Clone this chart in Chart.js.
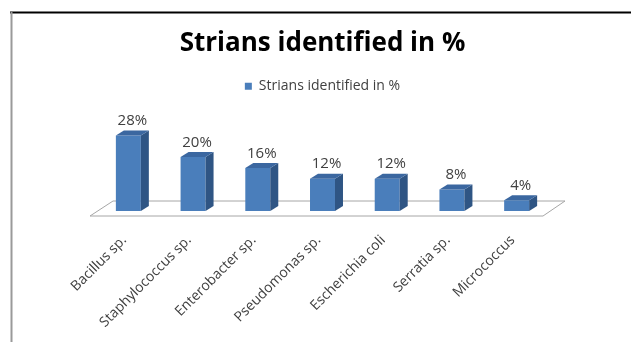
<!DOCTYPE html>
<html>
<head>
<meta charset="utf-8">
<script src="https://cdn.jsdelivr.net/npm/chart.js@4"></script>
<style>
  body { margin: 0; background: #fff; }
  #wrap { position: relative; width: 631px; height: 342px; }
</style>
</head>
<body>
<div id="wrap"><canvas id="strainChart" width="631" height="342"></canvas></div>
<script>
const strains = ['Bacillus sp.', 'Staphylococcus sp.', 'Enterobacter sp.', 'Pseudomonas sp.', 'Escherichia coli', 'Serratia sp.', 'Micrococcus'];
const percentValues = [28, 20, 16, 12, 12, 8, 4];
const seriesName = 'Strians identified in %';

const FONT = '"Open Sans", Lato, sans-serif';
// depth of the fake 3d box
const DX = 8, DY = -5;

const box3d = {
    id: 'box3d',
    beforeDraw(chart) {
        const c = chart.ctx;
        c.save();
        // outer frame (only top + left visible in the picture)
        c.strokeStyle = '#000';
        c.lineWidth = 2;
        c.beginPath();
        c.moveTo(10, 12.5);
        c.lineTo(631, 12.5);
        c.stroke();
        c.strokeStyle = '#9a9a9a';
        c.beginPath();
        c.moveTo(11.5, 12);
        c.lineTo(11.5, 342);
        c.stroke();
        c.restore();
    },
    beforeDatasetsDraw(chart) {
        const c = chart.ctx;
        const a = chart.chartArea;
        const y0 = a.bottom + 5;
        c.save();
        // floor
        c.fillStyle = '#fff';
        c.strokeStyle = '#a6a6a6';
        c.lineWidth = 1;
        c.beginPath();
        c.moveTo(a.left - 6, y0);
        c.lineTo(a.right - 6, y0);
        c.lineTo(a.right + 16, y0 - 15);
        c.lineTo(a.left + 17, y0 - 15);
        c.closePath();
        c.fill();
        c.stroke();
        c.restore();
    },
    afterDatasetsDraw(chart) {
        const c = chart.ctx;
        const meta = chart.getDatasetMeta(0);
        c.save();
        meta.data.forEach((bar, i) => {
            const p = bar.getProps(['x', 'y', 'base', 'width'], true);
            const l = p.x - p.width / 2, r = p.x + p.width / 2;
            const top = p.y, bot = p.base;
            // side
            c.fillStyle = '#2f5584';
            c.beginPath();
            c.moveTo(r, top);
            c.lineTo(r + DX, top + DY);
            c.lineTo(r + DX, bot + DY);
            c.lineTo(r, bot);
            c.closePath();
            c.fill();
            // top
            c.fillStyle = '#3b67a0';
            c.beginPath();
            c.moveTo(l, top);
            c.lineTo(l + DX, top + DY);
            c.lineTo(r + DX, top + DY);
            c.lineTo(r, top);
            c.closePath();
            c.fill();
            // value label
            c.fillStyle = '#404040';
            c.font = '15px ' + FONT;
            c.textAlign = 'center';
            c.textBaseline = 'bottom';
            c.fillText(percentValues[i] + '%', p.x + DX / 2, top + DY - 2);
        });
        c.restore();
    }
};

const ctx = document.getElementById('strainChart').getContext('2d');
const strainChart = new Chart(ctx, {
    type: 'bar',
    data: {
        labels: strains,
        datasets: [{
            label: seriesName,
            data: percentValues,
            backgroundColor: '#4a7ebb',
            borderWidth: 0,
            categoryPercentage: 1,
            barPercentage: 0.386
        }]
    },
    options: {
        responsive: false,
        animation: false,
        layout: {
            padding: { left: 96, right: 82, top: 0, bottom: 0 }
        },
        scales: {
            x: {
                grid: { display: false, drawTicks: false },
                border: { display: false },
                ticks: {
                    color: '#404040',
                    font: { family: FONT, size: 14 },
                    maxRotation: 45,
                    minRotation: 45,
                    padding: 21,
                    labelOffset: -4,
                    autoSkip: false
                },
                afterFit(scale) {
                    scale.height = 131;
                }
            },
            y: {
                display: false,
                min: 0,
                max: 40
            }
        },
        plugins: {
            title: {
                display: true,
                text: seriesName,
                color: '#000',
                font: { family: FONT, size: 26, weight: 'bold' },
                padding: { top: 28, bottom: 10 }
            },
            legend: {
                display: true,
                labels: {
                    color: '#404040',
                    font: { family: FONT, size: 14 },
                    boxWidth: 7,
                    boxHeight: 7,
                    padding: 10
                }
            },
            tooltip: { enabled: false }
        }
    },
    plugins: [box3d]
});
</script>
</body>
</html>
